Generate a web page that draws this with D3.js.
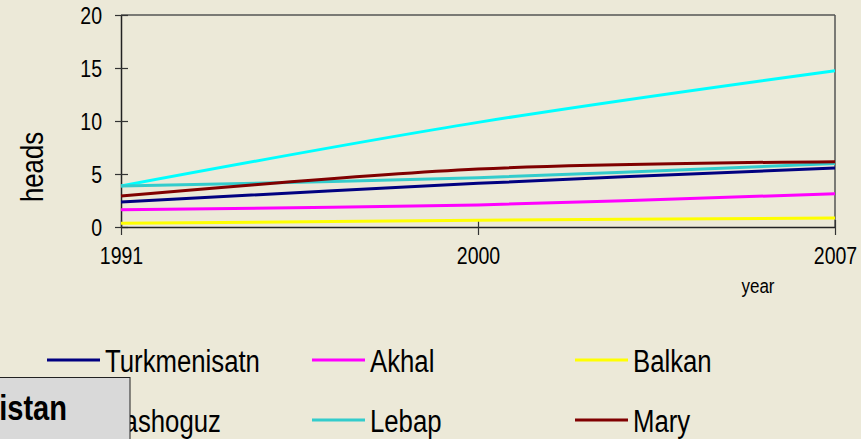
<!DOCTYPE html>
<html>
<head>
<meta charset="utf-8">
<script src="https://cdn.jsdelivr.net/npm/d3@7"></script>
<style>
    body { margin: 0; background: #ece9d8; overflow: hidden; }
    text { font-family: 'Liberation Sans', Arial, sans-serif; fill: #000; }
</style>
</head>
<body>
<div id="chart"></div>
<script>
// livestock by region, heads
const years = ['1991', '2000', '2007']
const regions = ['Turkmenisatn', 'Akhal', 'Balkan', 'Dashoguz', 'Lebap', 'Mary']
const colors = ['#000080', '#ff00ff', '#ffff00', '#00ffff', '#33cccc', '#800000']
const turkmenistan = [2.36, 4.12, 5.57]
const akhal = [1.63, 2.08, 3.14]
const balkan = [0.35, 0.63, 0.85]
const dashoguz = [3.87, 9.87, 14.75]
const lebap = [3.87, 4.65, 6.0]
const mary = [2.92, 5.47, 6.16]
const yTicks = [0, 5, 10, 15, 20]

const width = 861
const height = 439
const series = [turkmenistan, akhal, balkan, dashoguz, lebap, mary]

const svg = d3.select('#chart').append('svg')
svg.attr('width', width)
svg.attr('height', height)

// the font in the picture is a narrow arial
function narrow(sel) {
    sel.each(function () {
        const w = this.getComputedTextLength()
        d3.select(this)
            .attr('textLength', w * 0.83)
            .attr('lengthAdjust', 'spacingAndGlyphs')
    })
}

const x = d3.scalePoint().domain(years).range([121, 835])
const y = d3.scaleLinear().domain([0, 20]).range([227, 15])

// frame of the plot area
svg.append('line')
    .attr('x1', 121).attr('x2', 835)
    .attr('y1', y(20)).attr('y2', y(20))
    .attr('stroke', '#555')
    .attr('stroke-width', 1.5)
svg.append('line')
    .attr('x1', 835).attr('x2', 835)
    .attr('y1', y(20)).attr('y2', y(0))
    .attr('stroke', '#555')
    .attr('stroke-width', 1.5)

const yAxis = svg.append('g')
    .attr('transform', 'translate(121,0)')
    .call(d3.axisLeft(y).tickValues(yTicks).tickSize(6).tickSizeOuter(0).tickPadding(13))
yAxis.select('.domain').attr('stroke', '#222').attr('stroke-width', 1.5)
yAxis.selectAll('.tick line').attr('x1', 7).attr('stroke', '#333').attr('stroke-width', 1.2)
yAxis.selectAll('.tick text')
    .attr('font-size', 23.5)
    .attr('font-family', null)
    .attr('dy', '0.36em')
    .call(narrow)

const xAxis = svg.append('g')
    .attr('transform', 'translate(0,' + y(0) + ')')
    .call(d3.axisBottom(x).tickSize(8).tickSizeOuter(0).tickPadding(12))
xAxis.select('.domain').attr('stroke', '#222').attr('stroke-width', 1.5)
xAxis.selectAll('.tick line').attr('y1', -7).attr('stroke', '#333').attr('stroke-width', 1.2)
xAxis.selectAll('.tick text')
    .attr('font-size', 23.5)
    .attr('font-family', null)
    .call(narrow)

svg.append('text')
    .attr('transform', 'translate(43,167) rotate(-90)')
    .attr('text-anchor', 'middle')
    .attr('font-size', 31)
    .text('heads')
    .call(narrow)

svg.append('text')
    .attr('x', 758)
    .attr('y', 293)
    .attr('text-anchor', 'middle')
    .attr('font-size', 20.5)
    .text('year')
    .call(narrow)

const line = d3.line()
    .x((d, i) => x(years[i]))
    .y((d) => y(d))
    .curve(d3.curveCatmullRom.alpha(0))

svg.append('g')
    .selectAll('path')
    .data(series)
    .enter()
    .append('path')
    .attr('d', (d) => line(d))
    .attr('fill', 'none')
    .attr('stroke', (d, i) => colors[i])
    .attr('stroke-width', 3)

// legend, three columns by two rows
const legend = svg.append('g')
    .selectAll('g')
    .data(regions)
    .enter()
    .append('g')
    .attr('transform', (d, i) => {
        const cx = [47, 312, 575][i % 3]
        const cy = [360, 420][Math.floor(i / 3)]
        return 'translate(' + cx + ',' + cy + ')'
    })

legend.append('line')
    .attr('x1', 0).attr('x2', 53)
    .attr('stroke', (d, i) => colors[i])
    .attr('stroke-width', 3)

legend.append('text')
    .attr('x', 58)
    .attr('y', 12)
    .attr('font-size', 31)
    .text((d) => d)
    .call(narrow)

// grey title box sitting over the corner of the legend
svg.append('rect')
    .attr('x', -2)
    .attr('y', 377.5)
    .attr('width', 132)
    .attr('height', 70)
    .attr('fill', '#d9d9d9')
    .attr('stroke', '#222')
    .attr('stroke-width', 1)

svg.append('text')
    .attr('x', 67)
    .attr('y', 420)
    .attr('text-anchor', 'end')
    .attr('font-size', 35)
    .attr('font-weight', 'bold')
    .text('Turkmenistan')
    .call(narrow)
</script>
</body>
</html>
